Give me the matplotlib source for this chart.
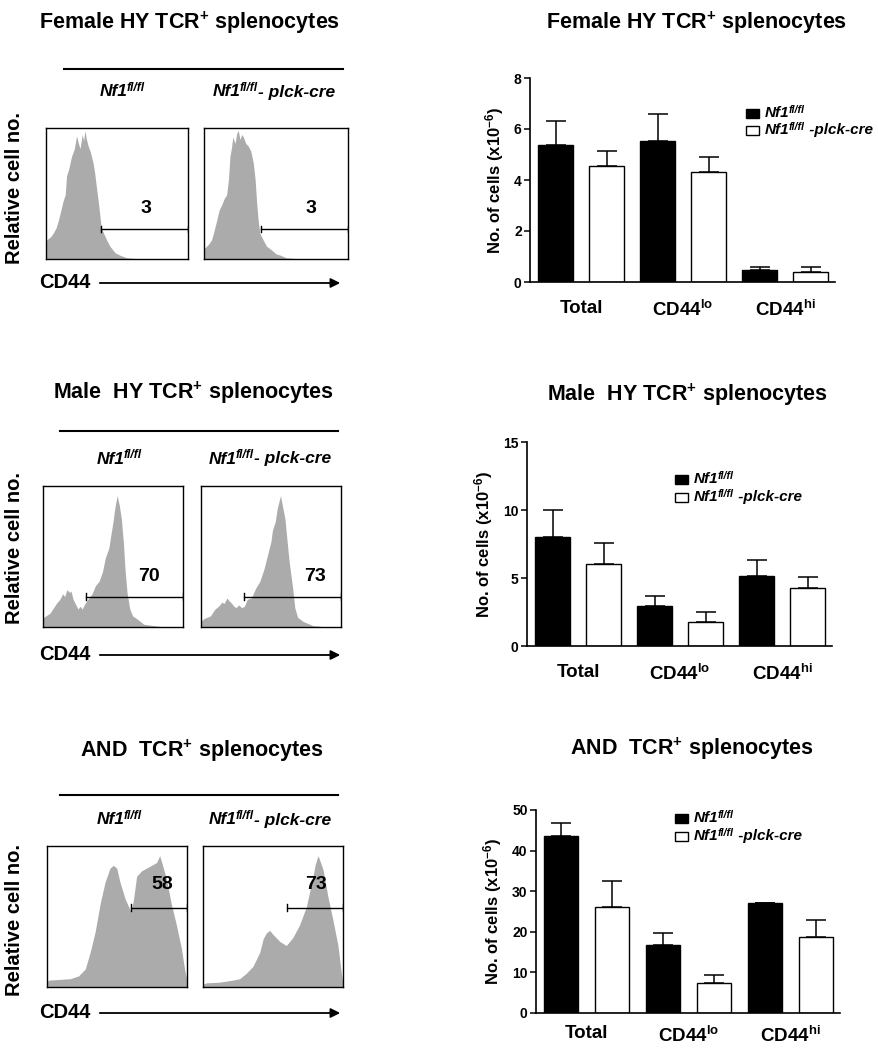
import numpy as np
import matplotlib
matplotlib.use("Agg")
import matplotlib.pyplot as plt
from matplotlib.patches import Rectangle

plt.rcParams['font.family'] = ['Liberation Sans', 'DejaVu Sans']
plt.rcParams['font.weight'] = 'bold'
plt.rcParams['axes.labelweight'] = 'bold'
plt.rcParams['mathtext.fontset'] = 'custom'
plt.rcParams['mathtext.rm'] = 'Liberation Sans:bold'
plt.rcParams['mathtext.bf'] = 'Liberation Sans:bold'
plt.rcParams['mathtext.it'] = 'Liberation Sans:bold:italic'
plt.rcParams['mathtext.sf'] = 'Liberation Sans:bold'

W, H = 879, 1050

# ---- data ----
titles = [r'Female HY TCR$^{\mathrm{+}}$ splenocytes',
          r'Male  HY TCR$^{\mathrm{+}}$ splenocytes',
          r'AND  TCR$^{\mathrm{+}}$ splenocytes']
# genotype label pieces: base, superscript, suffix
geno_hist = [('Nf1', 'fl/fl', ''), ('Nf1', 'fl/fl', '- plck-cre')]
geno_leg = [('Nf1', 'fl/fl', ''), ('Nf1', 'fl/fl', ' -plck-cre')]
categories = ['Total', r'CD44$^{\mathrm{lo}}$', r'CD44$^{\mathrm{hi}}$']

# gated percentages (CD44 hi)
gate_pct = [['3', '3'], ['70', '73'], ['58', '73']]

# bar values (x10^6 cells): mean and SEM, per row
wt_mean = [[5.39, 5.53, 0.46], [8.0, 2.94, 5.12], [43.7, 16.8, 27.0]]
wt_err = [[0.91, 1.05, 0.13], [1.97, 0.71, 1.23], [3.0, 2.9, 0.2]]
ko_mean = [[4.55, 4.30, 0.39], [6.05, 1.76, 4.29], [26.0, 7.4, 18.7]]
ko_err = [[0.59, 0.6, 0.2], [1.53, 0.74, 0.76], [6.4, 2.0, 4.3]]
ymax = [8, 15, 50]
yticks = [[0, 2, 4, 6, 8], [0, 5, 10, 15], [0, 10, 20, 30, 40, 50]]

# histograms: CD44 (0-1 scaled) vs relative cell number
fem_wt_x = [0.0, 0.005, 0.03, 0.05, 0.07, 0.087, 0.105, 0.12, 0.135, 0.145, 0.16, 0.18, 0.2, 0.215, 0.228,
            0.24, 0.255, 0.265, 0.274, 0.285, 0.297, 0.31, 0.32, 0.333, 0.344, 0.356, 0.368, 0.38, 0.39,
            0.41, 0.426, 0.45, 0.485, 0.52, 0.567, 0.62, 0.66, 1.0]
fem_wt_y = [0.1, 0.15, 0.17, 0.2, 0.24, 0.3, 0.38, 0.45, 0.5, 0.65, 0.7, 0.8, 0.86, 0.96, 0.9,
            0.86, 0.97, 0.92, 1.0, 0.93, 0.88, 0.84, 0.8, 0.74, 0.66, 0.55, 0.45, 0.33, 0.24,
            0.19, 0.15, 0.1, 0.05, 0.03, 0.01, 0.005, 0.0, 0.0]
fem_ko_x = [0.0, 0.018, 0.035, 0.053, 0.07, 0.088, 0.105, 0.122, 0.14, 0.157, 0.17, 0.18, 0.19, 0.2, 0.215,
            0.228, 0.238, 0.25, 0.262, 0.273, 0.29, 0.307, 0.325, 0.342, 0.355, 0.365, 0.376, 0.388,
            0.41, 0.434, 0.47, 0.5, 0.53, 0.57, 0.62, 0.665, 1.0]
fem_ko_y = [0.08, 0.1, 0.12, 0.15, 0.22, 0.3, 0.38, 0.42, 0.47, 0.5, 0.62, 0.8, 0.86, 0.95, 0.9,
            0.98, 1.0, 0.93, 0.97, 0.95, 0.9, 0.88, 0.84, 0.75, 0.62, 0.45, 0.3, 0.2,
            0.15, 0.1, 0.07, 0.04, 0.03, 0.01, 0.005, 0.0, 0.0]
male_wt_x = [0.0, 0.005, 0.05, 0.095, 0.12, 0.14, 0.155, 0.17, 0.19, 0.2, 0.215, 0.235, 0.25, 0.265,
             0.28, 0.3, 0.32, 0.35, 0.375, 0.4, 0.425, 0.445, 0.47, 0.487, 0.5, 0.51, 0.52, 0.53,
             0.545, 0.56, 0.575, 0.585, 0.6, 0.62, 0.64, 0.67, 0.72, 0.81, 0.88, 1.0]
male_wt_y = [0.05, 0.07, 0.1, 0.17, 0.2, 0.24, 0.22, 0.27, 0.25, 0.26, 0.2, 0.16, 0.13, 0.15,
             0.13, 0.17, 0.2, 0.24, 0.3, 0.33, 0.4, 0.5, 0.57, 0.68, 0.76, 0.84, 0.9, 0.95,
             0.88, 0.78, 0.6, 0.43, 0.25, 0.13, 0.08, 0.06, 0.02, 0.007, 0.0, 0.0]
male_ko_x = [0.0, 0.019, 0.067, 0.1, 0.125, 0.15, 0.165, 0.185, 0.2, 0.22, 0.235, 0.25, 0.27, 0.29, 0.31,
             0.33, 0.36, 0.39, 0.42, 0.45, 0.475, 0.5, 0.51, 0.53, 0.545, 0.555, 0.568, 0.585, 0.6,
             0.614, 0.63, 0.655, 0.67, 0.69, 0.73, 0.8, 0.9, 1.0]
male_ko_y = [0.04, 0.06, 0.08, 0.13, 0.15, 0.18, 0.17, 0.21, 0.19, 0.17, 0.15, 0.14, 0.16, 0.14, 0.15,
             0.2, 0.21, 0.28, 0.33, 0.42, 0.52, 0.62, 0.7, 0.76, 0.86, 0.9, 0.95, 0.86, 0.78,
             0.63, 0.47, 0.28, 0.14, 0.07, 0.04, 0.01, 0.0, 0.0]
and_wt_x = [0.0, 0.012, 0.095, 0.166, 0.225, 0.273, 0.308, 0.344, 0.379, 0.415, 0.45, 0.474, 0.486, 0.498,
            0.521, 0.557, 0.592, 0.6, 0.616, 0.64, 0.675, 0.711, 0.746, 0.782, 0.805, 0.82, 0.853,
            0.888, 0.924, 0.96, 0.984, 1.0]
and_wt_y = [0.04, 0.05, 0.055, 0.06, 0.08, 0.13, 0.25, 0.4, 0.6, 0.76, 0.86, 0.88, 0.87, 0.86,
            0.76, 0.64, 0.56, 0.55, 0.62, 0.8, 0.84, 0.86, 0.88, 0.9, 0.95, 0.9, 0.78,
            0.6, 0.45, 0.28, 0.12, 0.05]
and_ko_x = [0.0, 0.024, 0.119, 0.214, 0.262, 0.31, 0.357, 0.405, 0.43, 0.452, 0.476, 0.5, 0.548, 0.595,
            0.643, 0.69, 0.738, 0.786, 0.8, 0.821, 0.833, 0.857, 0.893, 0.929, 0.964, 0.988, 1.0]
and_ko_y = [0.02, 0.03, 0.035, 0.05, 0.06, 0.1, 0.15, 0.25, 0.35, 0.39, 0.41, 0.38, 0.33, 0.3,
            0.36, 0.45, 0.58, 0.8, 0.88, 0.95, 0.92, 0.85, 0.65, 0.48, 0.3, 0.1, 0.03]
hist_x = [[fem_wt_x, fem_ko_x], [male_wt_x, male_ko_x], [and_wt_x, and_ko_x]]
hist_y = [[fem_wt_y, fem_ko_y], [male_wt_y, male_ko_y], [and_wt_y, and_ko_y]]

# ---- layout (pixels) ----
left_title = [(190, 23), (193, 393), (202, 751)]
right_title = [(697, 23), (687, 395), (692, 749)]
line_y = [69, 431, 795]
line_x = [(64, 343), (60, 338), (60, 338)]
lab_y = [92, 459, 820]
lab_x = [(100, 213), (97, 209), (97, 209)]
box_y = [(128, 259), (486, 627), (846, 987)]
box_x = [[(46, 188), (204, 348)], [(43, 183), (201, 341)], [(47, 187), (203, 343)]]
relcell_y = [188, 548, 920]
cd44_y = [283, 655, 1013]
gate_lvl = [[(0.39, 0.234), (0.395, 0.234)], [(0.307, 0.22), (0.305, 0.22)], [(0.6, 0.573), (0.602, 0.573)]]
gate_lab = [[(0.707, 0.39), (0.746, 0.39)], [(0.76, 0.367), (0.817, 0.367)], [(0.825, 0.74), (0.81, 0.74)]]
bar_box = [(530, 78, 835, 282), (527, 442, 832, 646), (536, 810, 840, 1013)]
leg_sq_x = [746, 675, 675]
leg_y = [(113, 130), (479, 497), (818, 836)]
cat_pad = [13, 13, 9]

fig = plt.figure(figsize=(W / 100, H / 100), dpi=100)
fig.patch.set_facecolor('white')

ov = fig.add_axes([0, 0, 1, 1])
ov.set_xlim(0, W)
ov.set_ylim(H, 0)
ov.axis('off')
ov.set_zorder(10)


def px_axes(x0, y0, x1, y1):
    return fig.add_axes([x0 / W, 1 - y1 / H, (x1 - x0) / W, (y1 - y0) / H])


def genotype_text(x, y, parts, fs):
    # base text, raised superscript, then the suffix on the base line
    base, sup, tail = parts
    t1 = ov.text(x, y, base, fontsize=fs, style='italic', ha='left', va='center')
    t2 = ov.annotate(sup, xy=(1, 0.5), xycoords=t1, xytext=(-0.8, -0.1 * fs), textcoords='offset points',
                     fontsize=fs * 0.7, style='italic', ha='left', va='bottom')
    if tail:
        ov.annotate(tail, xy=(1, 0.5), xycoords=(t2, t1), xytext=(0.3, 0), textcoords='offset points',
                    fontsize=fs, style='italic', ha='left', va='center')


for r in range(3):
    # left column: histograms
    ov.text(left_title[r][0], left_title[r][1], titles[r], ha='center', va='center', fontsize=15.5)
    ov.plot(line_x[r], [line_y[r], line_y[r]], color='black', lw=1.5)
    for k in range(2):
        genotype_text(lab_x[r][k], lab_y[r], geno_hist[k], 12.5)
    ov.text(15, relcell_y[r], 'Relative cell no.', rotation=90, ha='center', va='center', fontsize=14.5)
    ov.text(39, cd44_y[r], 'CD44', ha='left', va='center', fontsize=14.5)
    ov.annotate('', xy=(343, cd44_y[r]), xytext=(97, cd44_y[r]),
                arrowprops=dict(arrowstyle='-|>', color='black', lw=1.3, mutation_scale=14))
    for k in range(2):
        bx = box_x[r][k]
        ax = px_axes(bx[0], box_y[r][0], bx[1], box_y[r][1])
        ax.fill_between(hist_x[r][k], 0, hist_y[r][k], color='#ababab', lw=0)
        ax.set_xlim(0, 1)
        ax.set_ylim(0, 1.02)
        ax.set_xticks([])
        ax.set_yticks([])
        for s in ax.spines.values():
            s.set_linewidth(1.0)
        g0, gy = gate_lvl[r][k]
        ax.plot([g0, 1.0], [gy, gy], color='black', lw=1.0)
        ax.plot([g0, g0], [gy - 0.025, gy + 0.025], color='black', lw=1.0)
        ax.plot([0.997, 0.997], [gy - 0.025, gy + 0.025], color='black', lw=1.0)
        ax.text(gate_lab[r][k][0], gate_lab[r][k][1], gate_pct[r][k], ha='center', va='center',
                fontsize=14)

    # right column: bar charts
    ov.text(right_title[r][0], right_title[r][1], titles[r], ha='center', va='center', fontsize=15.5)
    b = bar_box[r]
    ax = px_axes(*b)
    xs_wt = np.array([0, 2, 4])
    xs_ko = np.array([1, 3, 5])
    ax.bar(xs_wt, wt_mean[r], width=0.67, color='black', edgecolor='black', lw=1.0, zorder=2)
    ax.bar(xs_ko, ko_mean[r], width=0.67, color='white', edgecolor='black', lw=1.0, zorder=2)
    ax.errorbar(xs_wt, wt_mean[r], yerr=[np.zeros(3), wt_err[r]], fmt='none', ecolor='black',
                elinewidth=1.1, capsize=7, capthick=1.1, zorder=1)
    ax.errorbar(xs_ko, ko_mean[r], yerr=[np.zeros(3), ko_err[r]], fmt='none', ecolor='black',
                elinewidth=1.1, capsize=7, capthick=1.1, zorder=1)
    ax.set_ylim(0, ymax[r])
    ax.set_xlim(-0.5, 5.48)
    ax.set_yticks(yticks[r])
    ax.set_yticklabels([str(v) for v in yticks[r]], fontsize=10, fontweight='bold')
    ax.set_xticks([0.5, 2.5, 4.5])
    ax.set_xticklabels(categories, fontsize=13.5, fontweight='bold')
    ax.tick_params(axis='x', length=0, pad=cat_pad[r])
    ax.tick_params(axis='y', length=4, width=1.1, pad=2)
    ax.spines['top'].set_visible(False)
    ax.spines['right'].set_visible(False)
    ax.spines['left'].set_linewidth(1.2)
    ax.spines['bottom'].set_linewidth(1.2)
    ax.set_ylabel(r'No. of cells (x10$^{-6}$)', fontsize=12, labelpad=6)

    # legend drawn by hand so the superscript slash renders cleanly
    for k, fc in enumerate(['black', 'white']):
        ly = leg_y[r][k]
        ov.add_patch(Rectangle((leg_sq_x[r], ly - 4.5), 13, 9, facecolor=fc, edgecolor='black', lw=1.0))
        genotype_text(leg_sq_x[r] + 19, ly, geno_leg[k], 11)

fig.savefig('out.png', dpi=100, facecolor='white')
